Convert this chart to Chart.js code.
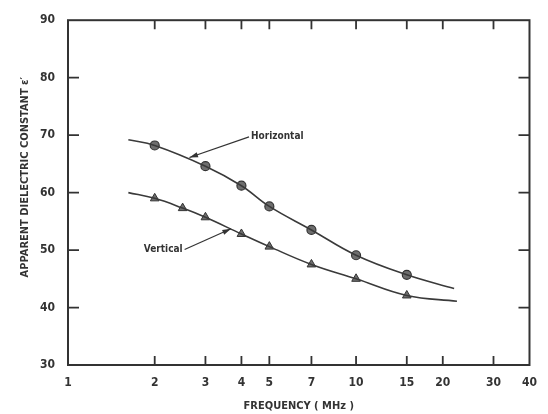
<!doctype html>
<html lang="en">
<head>
  <meta charset="utf-8">
  <title>Apparent Dielectric Constant vs Frequency</title>
  <script src="https://cdn.jsdelivr.net/npm/chart.js"></script>
  <style>
    body { margin: 0; background: #fff; }
  </style>
</head>
<body>
  <canvas id="epsChart" width="548" height="414"></canvas>

  <script>
    // values (frequency in MHz, epsilon')
    const xTicks = [1, 2, 3, 4, 5, 7, 10, 15, 20, 30, 40];
    const yTicks = [30, 40, 50, 60, 70, 80, 90];

    const horizFreq = [2, 3, 4, 5, 7, 10, 15];
    const horizEps = [68.2, 64.6, 61.2, 57.6, 53.5, 49.1, 45.7];
    const vertFreq = [2, 2.5, 3, 4, 5, 7, 10, 15];
    const vertEps = [59.0, 57.3, 55.7, 52.8, 50.6, 47.5, 45.0, 42.1];

    // drawn curves run a bit past the measured points
    const horizCurveFreq = [1.62, 2, 3, 4, 5, 7, 10, 15, 21.9];
    const horizCurveEps = [69.2, 68.2, 64.6, 61.2, 57.6, 53.5, 49.1, 45.7, 43.3];
    const vertCurveFreq = [1.62, 2, 2.5, 3, 4, 5, 7, 10, 15, 22.4];
    const vertCurveEps = [60.0, 59.0, 57.3, 55.7, 52.8, 50.6, 47.5, 45.0, 42.1, 41.1];

    const ink = '#333';
    const family = '"DejaVu Sans Condensed", sans-serif';
    const tickFont = { family: '"Liberation Sans Narrow", ' + family, weight: 'bold', size: 12 };
    const titleFont = { family, weight: 'bold', size: 11 };

    const toPts = (xs, ys) => xs.map((x, i) => ({ x, y: ys[i] }));

    // labels with arrows, in data coordinates
    const notes = [
      { text: 'Horizontal', at: [4.32, 69.7], align: 'left', from: [4.25, 69.7], to: [2.64, 66.1] },
      { text: 'Vertical', at: [2.5, 50.1], align: 'right', from: [2.54, 50.1], to: [3.68, 53.7] }
    ];

    const framePlugin = {
      id: 'frame',
      afterDraw(chart) {
        const { ctx, chartArea: a, scales: { x, y } } = chart;
        ctx.save();
        ctx.strokeStyle = ink;
        ctx.lineWidth = 2;
        ctx.strokeRect(a.left, a.top, a.right - a.left, a.bottom - a.top);
        ctx.lineWidth = 1.8;
        ctx.beginPath();
        xTicks.slice(1, -1).forEach(v => {
          const px = x.getPixelForValue(v);
          ctx.moveTo(px, a.bottom); ctx.lineTo(px, a.bottom - 9);
          ctx.moveTo(px, a.top); ctx.lineTo(px, a.top + 9);
        });
        yTicks.slice(1, -1).forEach(v => {
          const py = y.getPixelForValue(v);
          ctx.moveTo(a.left, py); ctx.lineTo(a.left + 11, py);
          ctx.moveTo(a.right, py); ctx.lineTo(a.right - 11, py);
        });
        ctx.stroke();

        // annotations
        ctx.font = 'bold 10px ' + family;
        ctx.fillStyle = ink;
        ctx.textBaseline = 'middle';
        ctx.lineWidth = 1.2;
        notes.forEach(n => {
          ctx.textAlign = n.align;
          ctx.fillText(n.text, x.getPixelForValue(n.at[0]), y.getPixelForValue(n.at[1]));
          const x0 = x.getPixelForValue(n.from[0]), y0 = y.getPixelForValue(n.from[1]);
          const x1 = x.getPixelForValue(n.to[0]), y1 = y.getPixelForValue(n.to[1]);
          ctx.beginPath();
          ctx.moveTo(x0, y0); ctx.lineTo(x1, y1);
          ctx.stroke();
          const ang = Math.atan2(y1 - y0, x1 - x0);
          ctx.beginPath();
          ctx.moveTo(x1, y1);
          ctx.lineTo(x1 - 9 * Math.cos(ang - 0.3), y1 - 9 * Math.sin(ang - 0.3));
          ctx.lineTo(x1 - 9 * Math.cos(ang + 0.3), y1 - 9 * Math.sin(ang + 0.3));
          ctx.closePath();
          ctx.fill();
        });
        ctx.restore();
      }
    };

    new Chart(document.getElementById('epsChart'), {
      type: 'scatter',
      data: {
        datasets: [
          {
            label: 'Horizontal curve',
            data: toPts(horizCurveFreq, horizCurveEps),
            showLine: true, pointRadius: 0,
            borderColor: '#3a3a3a', borderWidth: 1.6,
            tension: 0.4
          },
          {
            label: 'Vertical curve',
            data: toPts(vertCurveFreq, vertCurveEps),
            showLine: true, pointRadius: 0,
            borderColor: '#3a3a3a', borderWidth: 1.6,
            tension: 0.4
          },
          {
            label: 'Horizontal',
            data: toPts(horizFreq, horizEps),
            pointStyle: 'circle', pointRadius: 4.5,
            backgroundColor: '#6e6e6e', borderColor: ink, borderWidth: 1.2
          },
          {
            label: 'Vertical',
            data: toPts(vertFreq, vertEps),
            pointStyle: 'triangle', pointRadius: 5,
            backgroundColor: '#6e6e6e', borderColor: ink, borderWidth: 1
          }
        ]
      },
      options: {
        responsive: false,
        animation: false,
        layout: { padding: { top: 13, right: 16, left: 0, bottom: 0 } },
        plugins: { legend: { display: false }, tooltip: { enabled: false } },
        scales: {
          x: {
            type: 'logarithmic',
            min: 1, max: 40,
            afterBuildTicks: s => { s.ticks = xTicks.map(v => ({ value: v })); },
            afterFit: s => { s.height = 49; },
            grid: { display: false, drawTicks: false },
            border: { display: false },
            ticks: {
              autoSkip: false, maxRotation: 0, padding: 11,
              color: ink, font: tickFont,
              callback: v => String(v)
            },
            title: {
              display: true, text: 'FREQUENCY ( MHz )',
              color: ink, font: titleFont, padding: { top: 0, bottom: 1 }
            }
          },
          y: {
            min: 30, max: 90,
            afterBuildTicks: s => { s.ticks = yTicks.map(v => ({ value: v })); },
            afterFit: s => { s.width = 68; },
            grid: { display: false, drawTicks: false },
            border: { display: false },
            ticks: { padding: 13, color: ink, font: tickFont },
            title: {
              display: true,
              text: '\u00a0\u00a0\u00a0\u00a0\u00a0\u00a0\u00a0\u00a0\u00a0APPARENT DIELECTRIC CONSTANT \u03b5\u2032',
              color: ink, font: titleFont, padding: { top: 19, bottom: 0 }
            }
          }
        }
      },
      plugins: [framePlugin]
    });
  </script>
</body>
</html>
